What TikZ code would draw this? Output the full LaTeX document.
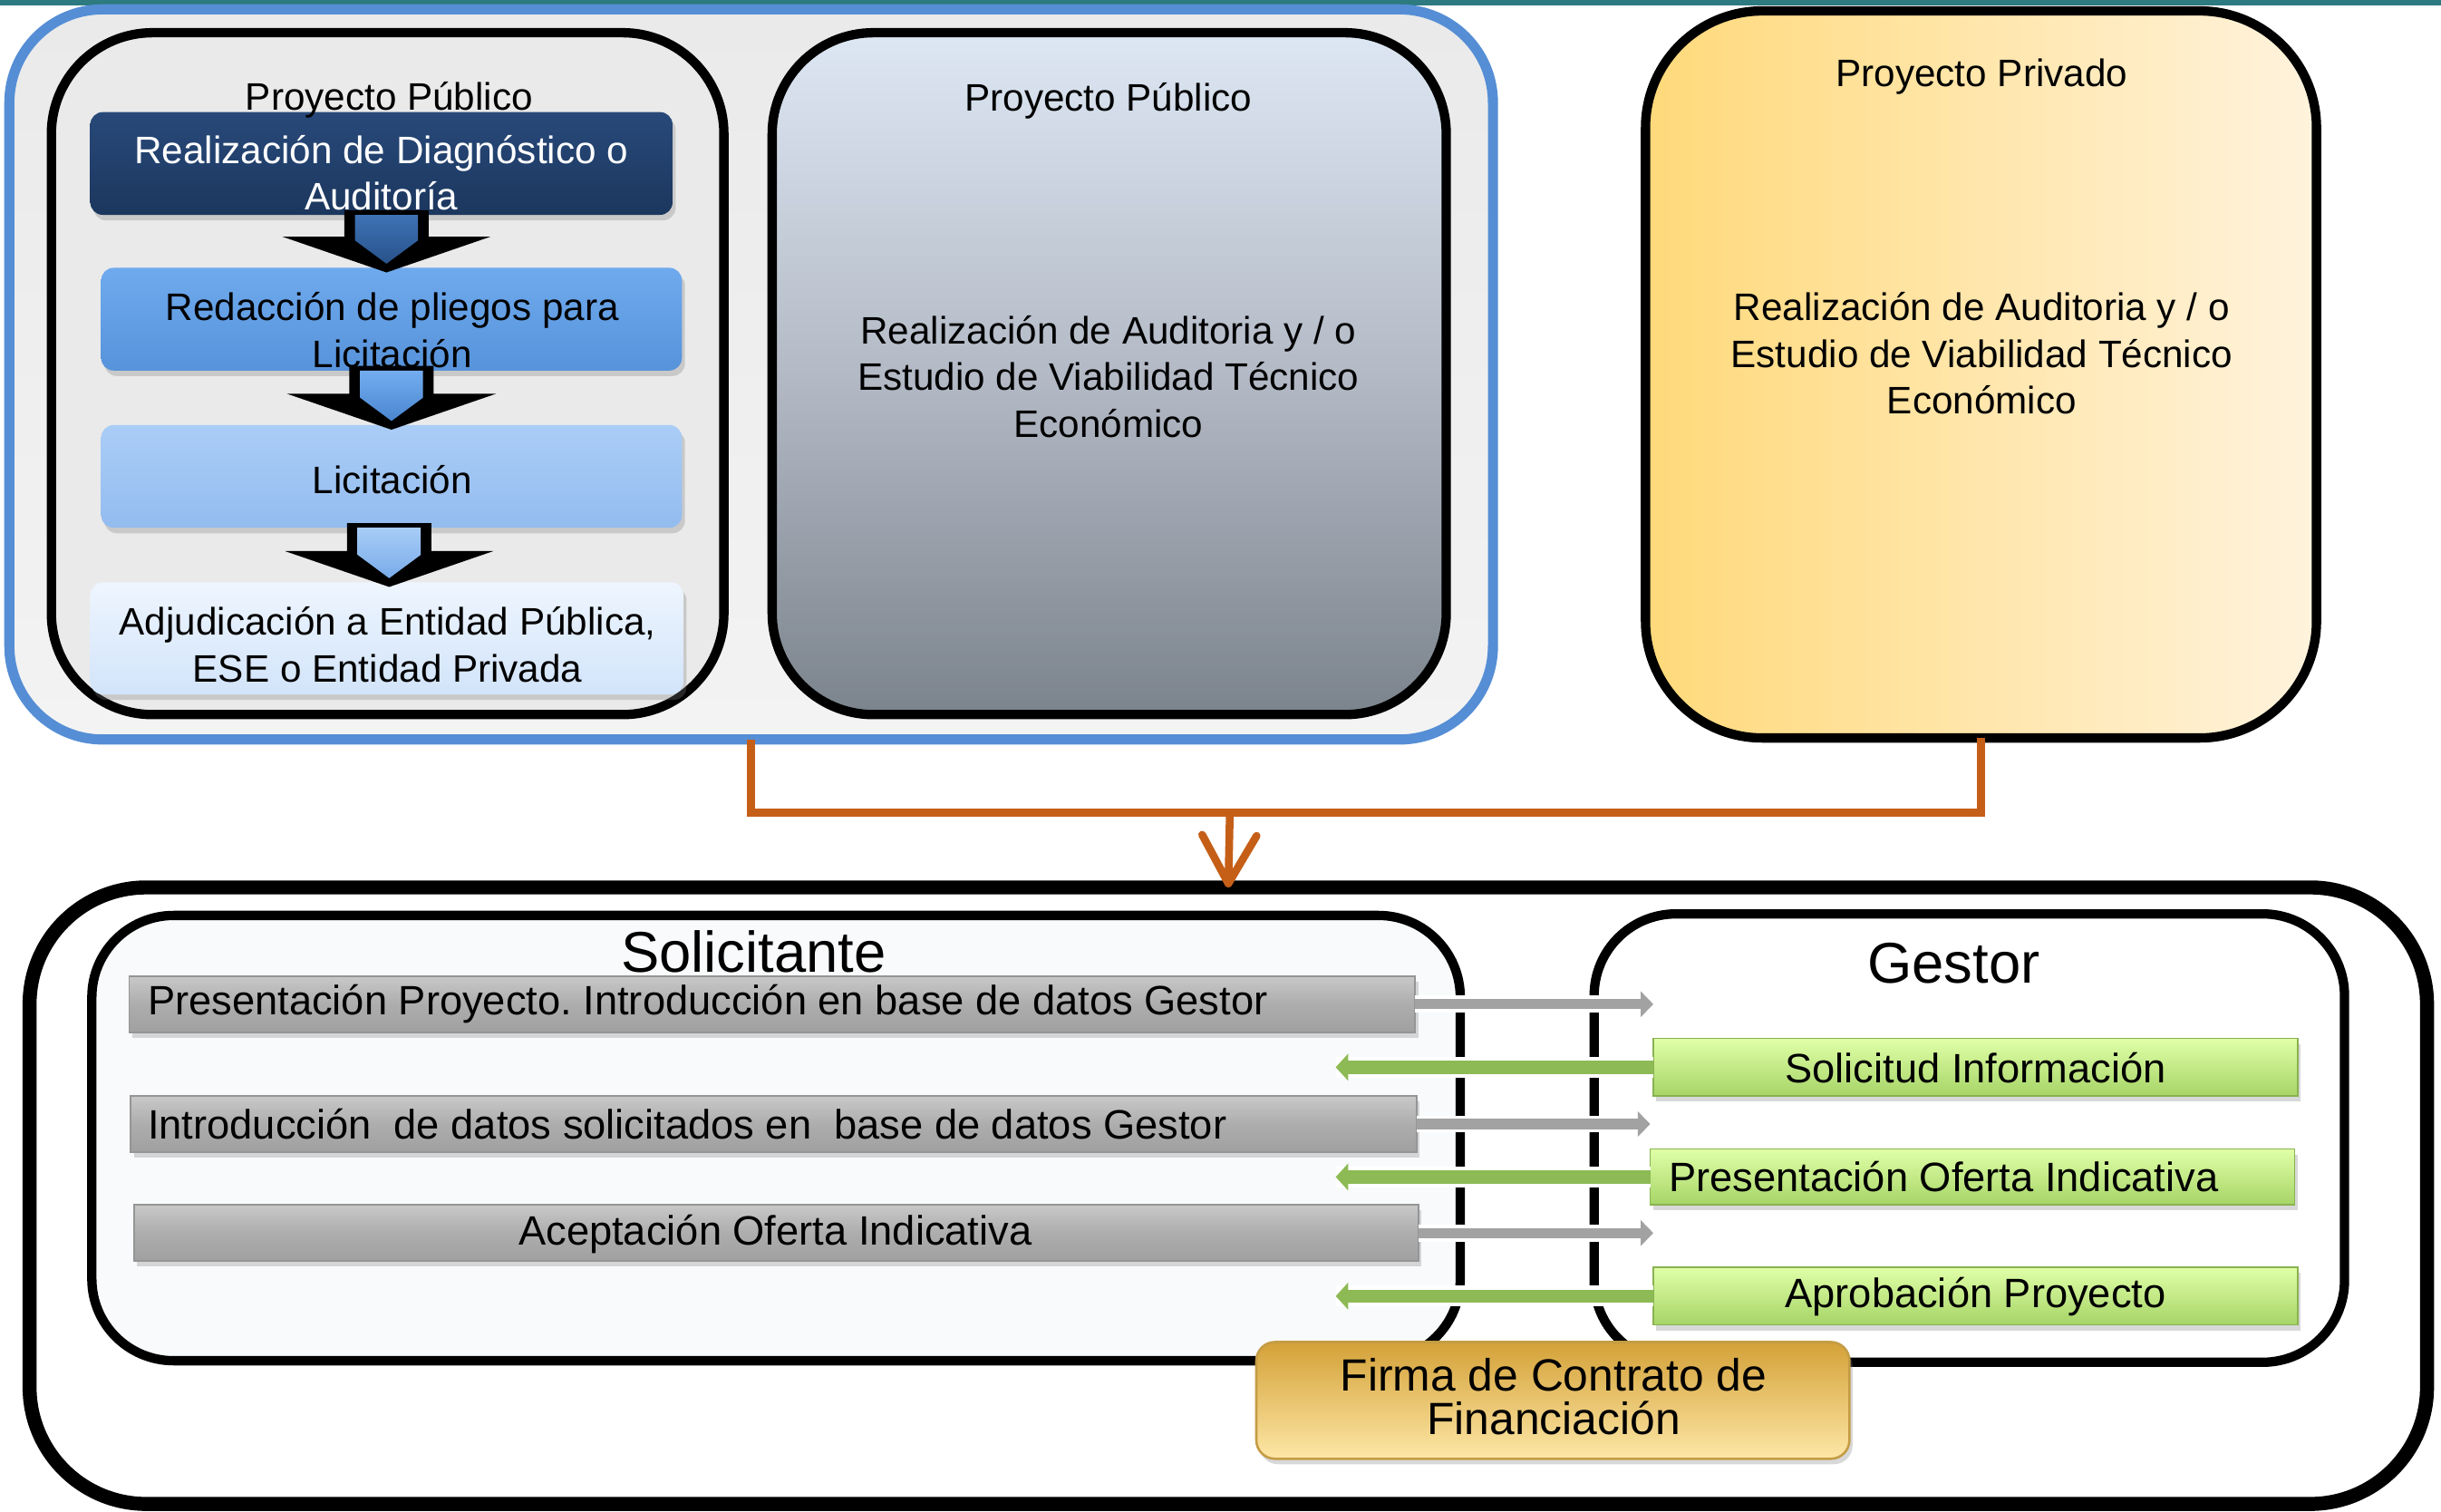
\documentclass[tikz,border=0pt]{standalone}
\usepackage{fontspec}
\setmainfont{Liberation Sans}
\usetikzlibrary{fit,calc,arrows.meta,shadows}
\frenchspacing
\definecolor{tealtop}{HTML}{2D7A80}
\definecolor{bluebd}{HTML}{558ED5}
\definecolor{panel}{HTML}{EAEAEA}
\definecolor{panelb}{HTML}{F3F3F3}
\definecolor{navytop}{HTML}{28497A}
\definecolor{navybot}{HTML}{1C375E}
\definecolor{midbtop}{HTML}{6FAAEE}
\definecolor{midbbot}{HTML}{5793DA}
\definecolor{ltbtop}{HTML}{AACDF6}
\definecolor{ltbbot}{HTML}{93BCEF}
\definecolor{pbtop}{HTML}{EEF5FE}
\definecolor{pbbot}{HTML}{D2E4FA}
\definecolor{slatetop}{HTML}{DDE7F3}
\definecolor{slatemid}{HTML}{B3BAC6}
\definecolor{slatebot}{HTML}{7B838C}
\definecolor{goldL}{HTML}{FFD97A}
\definecolor{goldR}{HTML}{FFF3DD}
\definecolor{orangeln}{HTML}{C55F18}
\definecolor{solfill}{HTML}{F8FAFC}
\definecolor{bartop}{HTML}{C8C8C8}
\definecolor{barmid}{HTML}{ADADAD}
\definecolor{barbot}{HTML}{A0A0A0}
\definecolor{barline}{HTML}{959595}
\definecolor{grntop}{HTML}{E0FFA8}
\definecolor{grnbot}{HTML}{A6D466}
\definecolor{grnline}{HTML}{89B250}
\definecolor{grnarrow}{HTML}{8DBA55}
\definecolor{grayarrow}{HTML}{A2A2A2}
\definecolor{firmatop}{HTML}{D4A138}
\definecolor{firmabot}{HTML}{FDE7A6}
\definecolor{firmaline}{HTML}{C49C45}
\definecolor{ba1t}{HTML}{3E72B6}
\definecolor{ba1b}{HTML}{28528A}
\definecolor{ba2t}{HTML}{73ADF0}
\definecolor{ba2b}{HTML}{4A86D0}
\definecolor{ba3t}{HTML}{A8CCF6}
\definecolor{ba3b}{HTML}{78ABEA}
\newcommand{\blkarrow}[4]{%
  \fill[black] let \p1=(#1.south), \p2=(#2.north), \p3=($(\p1)!0.5!(\p2)$) in
    (\x3-15.4pt,\y1+1.7pt) -- (\x3+15.4pt,\y1+1.7pt) -- (\x3+15.4pt,\y2+11.4pt)
    -- (\x3+38.1pt,\y2+11.4pt) -- (\x3,\y2-1.7pt) -- (\x3-38.1pt,\y2+11.4pt)
    -- (\x3-15.4pt,\y2+11.4pt) -- cycle;
  \shade[top color=#3,bottom color=#4] let \p1=(#1.south), \p2=(#2.north), \p3=($(\p1)!0.5!(\p2)$) in
    (\x3-11.5pt,\y1) -- (\x3+11.5pt,\y1) -- (\x3+11.5pt,\y2+10pt)
    -- (\x3,\y2+1.5pt) -- (\x3-11.5pt,\y2+10pt) -- cycle;
}
\begin{document}
\begin{tikzpicture}[x=0.02cm,y=-0.02cm,
  every node/.style={inner sep=0pt,outer sep=0pt},
  frame/.style={draw=black,line width=0.12cm},
  shad/.style={drop shadow={opacity=0.3,shadow xshift=0.04cm,shadow yshift=-0.07cm}},
  t14/.style={font=\fontsize{14}{17}\selectfont,align=center},
  t15/.style={font=\fontsize{15}{18}\selectfont,align=center},
  t21/.style={font=\fontsize{21}{25}\selectfont},
  t16/.style={font=\fontsize{16.5}{16}\selectfont,align=center},
  stepboxA/.style={shad,rounded corners=0.16cm,top color=navytop,bottom color=navybot},
  stepboxB/.style={shad,rounded corners=0.16cm,top color=midbtop,bottom color=midbbot},
  stepboxC/.style={shad,rounded corners=0.16cm,top color=ltbtop,bottom color=ltbbot},
  stepboxD/.style={shad,rounded corners=0.16cm,top color=pbtop,bottom color=pbbot},
  graybar/.style={shad,draw=barline,line width=0.02cm,top color=bartop,bottom color=barbot,middle color=barmid},
  greenbar/.style={shad,draw=grnline,line width=0.02cm,top color=grntop,bottom color=grnbot},
  halogray/.style={white,line width=0.22cm},
  halogrn/.style={white,line width=0.27cm},
  grayarr/.style={grayarrow,line width=0.13cm,-{Triangle[length=0.16cm,width=0.32cm]}},
  grnarr/.style={grnarrow,line width=0.17cm,-{Triangle[length=0.16cm,width=0.34cm]}},
  orangeline/.style={orangeln,line width=0.1cm}
]
\useasboundingbox (0,0) rectangle (1568,971);
% top band
\fill[tealtop] (0,0) rectangle (1568,3.5);
% upper containers
\node[fit={(6,6) (959,475)},draw=bluebd,line width=0.13cm,rounded corners=1.2cm,top color=panel,bottom color=panelb] (blue) {};
\node[fit={(33,21) (465,459)},frame,rounded corners=1.3cm,fill=panel] (left) {};
\node[fit={(496,21) (929,459)},frame,rounded corners=1.3cm,top color=slatetop,bottom color=slatebot,middle color=slatemid] (mid) {};
\node[fit={(1057,7) (1488,474)},frame,rounded corners=1.5cm,left color=goldL,right color=goldR] (priv) {};
% steps in left panel
\node[fit={(58,72) (432,138)},stepboxA] (b1) {};
\node[fit={(65,172) (438,238)},stepboxB] (b2) {};
\node[fit={(65,273) (438,339)},stepboxC] (b3) {};
\node[fit={(58,374) (439,446)},stepboxD] (b4) {};
\blkarrow{b1}{b2}{ba1t}{ba1b}
\blkarrow{b2}{b3}{ba2t}{ba2b}
\blkarrow{b3}{b4}{ba3t}{ba3b}
\node[t14] (pp1) at (250,64) {Proyecto Público};
\node[t14,text=white] (b1t) at (245,111) {Realización de Diagnóstico o\\Auditoría};
\node[t14] (b2t) at (252,212) {Redacción de pliegos para\\Licitación};
\node[t14] (b3t) at (252,308) {Licitación};
\node[t14] (b4t) at (249,414) {Adjudicación a Entidad Pública,\\ESE o Entidad Privada};
\node[t14] (pp2) at (712,65) {Proyecto Público};
\node[t14] (midt) at (712,242) {Realización de Auditoria y / o\\Estudio de Viabilidad Técnico\\Económico};
\node[t14] (pv) at (1273,49) {Proyecto Privado};
\node[t14] (pvt) at (1273,227) {Realización de Auditoria y / o\\Estudio de Viabilidad Técnico\\Económico};
% lower container
\node[fit={(19,570) (1559,966)},draw=black,line width=0.18cm,rounded corners=1.5cm,fill=white] (bottom) {};
\node[fit={(59,588) (938,874)},frame,rounded corners=1.05cm,fill=solfill] (sol) {};
\node[fit={(1024,587) (1506,875)},frame,rounded corners=1.05cm,fill=white] (gest) {};
\node[t21] (solt) at (484,611) {Solicitante};
\node[t21] (gestt) at (1255,619) {Gestor};
% orange connector
\coordinate (j) at (790,522);
\draw[orangeline] (blue.south) |- (j) -| (priv.south);
\draw[orangeline,-{Straight Barb[length=0.62cm,width=0.7cm,round]}] (j) -- (bottom.north);
% bars
\node[fit={(83,627) (909,663)},graybar] (s1) {};
\node[fit={(84,704) (910,740)},graybar] (s2) {};
\node[fit={(86,774) (911,810)},graybar] (s3) {};
\node[fit={(1062,667) (1476,704)},greenbar] (g1) {};
\node[fit={(1060,738) (1474,774)},greenbar] (g2) {};
\node[fit={(1062,814) (1476,851)},greenbar] (g3) {};
\node[t15,anchor=west] (s1t) at (95,645) {Presentación Proyecto. Introducción en base de datos Gestor};
\node[t15,anchor=west] (s2t) at (95,722) {Introducción\ \ de datos solicitados en\ \ base de datos Gestor};
\node[t15] (s3t) at (498,793) {Aceptación Oferta Indicativa};
\node[t15] (g1t) at (1269,686) {Solicitud Información};
\node[t15,anchor=west] (g2t) at (1072,756) {Presentación Oferta Indicativa};
\node[t15] (g3t) at (1269,833) {Aprobación Proyecto};
% exchange arrows
\coordinate (lx) at (858,0);
\draw[halogray] (s1.east) -- (s1.east -| g1.west);
\draw[grayarr] (s1.east) -- (s1.east -| g1.west);
\draw[halogrn] (g1.west) -- (g1.west -| lx);
\draw[grnarr] (g1.west) -- (g1.west -| lx);
\draw[halogray] (s2.east) -- (s2.east -| g2.west);
\draw[grayarr] (s2.east) -- (s2.east -| g2.west);
\draw[halogrn] (g2.west) -- (g2.west -| lx);
\draw[grnarr] (g2.west) -- (g2.west -| lx);
\draw[halogray] (s3.east) -- (s3.east -| g3.west);
\draw[grayarr] (s3.east) -- (s3.east -| g3.west);
\draw[halogrn] (g3.west) -- (g3.west -| lx);
\draw[grnarr] (g3.west) -- (g3.west -| lx);
% contract box
\node[fit={(807,862) (1188,937)},shad,draw=firmaline,line width=0.03cm,rounded corners=0.24cm,top color=firmatop,bottom color=firmabot] (firma) {};
\node[t16] (firmat) at (998,897) {Firma de Contrato de\\Financiación};
\end{tikzpicture}
\end{document}
